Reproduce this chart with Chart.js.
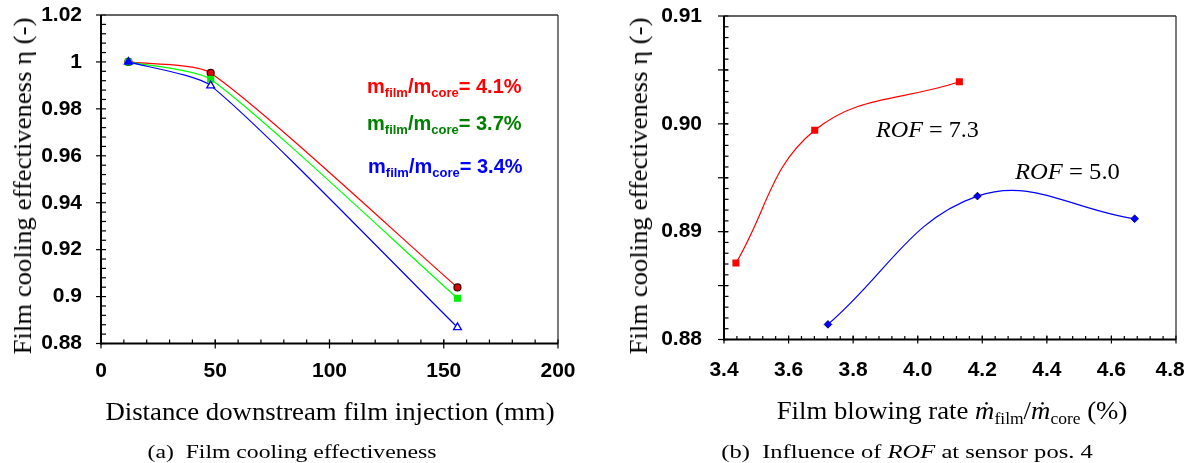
<!DOCTYPE html>
<html lang="en">
<head>
<meta charset="UTF-8">
<title>Film cooling effectiveness</title>
<script src="https://cdn.jsdelivr.net/npm/chart.js@4.4.1/dist/chart.umd.min.js"></script>
<style>
    body { margin: 0; background: #fff; width: 1188px; height: 463px; position: relative; overflow: hidden; }
    .box { position: absolute; top: 0; width: 594px; height: 463px; }
    .t { position: absolute; white-space: nowrap; line-height: 1; }
    .c { transform: translate(-50%, -50%); }
    .l { transform-origin: 0 0; }
    .serif { font-family: "Liberation Serif", "Times New Roman", serif; }
    .sans { font-family: "Liberation Sans", Arial, sans-serif; font-weight: bold; }
    .sub { font-size: 13px; vertical-align: -4px; }
    .sub2 { font-size: 17px; vertical-align: -5px; }
</style>
</head>
<body>
<div class="box" style="left:0"><canvas id="chartA"></canvas></div>
<div class="box" style="left:594px"><canvas id="chartB"></canvas></div>

<!-- axis titles, captions and notes -->
<div class="t c serif" data-w="337" data-rot="1" style="left:23px;top:186px;font-size:26px">Film cooling effectiveness η (-)</div>
<div class="t c serif" data-w="449" style="left:330px;top:412px;font-size:26px">Distance downstream film injection (mm)</div>
<div class="t c serif" data-w="289" style="left:292px;top:451px;font-size:19px">(a)&nbsp; Film cooling effectiveness</div>

<div class="t l sans" data-w="155" style="left:367px;top:76px;font-size:20px;color:#ff0000">m<span class="sub">film</span>/m<span class="sub">core</span>= 4.1%</div>
<div class="t l sans" data-w="155" style="left:367px;top:113px;font-size:20px;color:#008000">m<span class="sub">film</span>/m<span class="sub">core</span>= 3.7%</div>
<div class="t l sans" data-w="155" style="left:368px;top:156px;font-size:20px;color:#0000ff">m<span class="sub">film</span>/m<span class="sub">core</span>= 3.4%</div>

<div class="t c serif" data-w="337" data-rot="1" style="left:639px;top:186px;font-size:26px">Film cooling effectiveness η (-)</div>
<div class="t c serif" data-w="351" style="left:952px;top:412px;font-size:26px">Film blowing rate <i>ṁ</i><span class="sub2">film</span>/<i>ṁ</i><span class="sub2">core</span> (%)</div>
<div class="t c serif" data-w="372" style="left:907px;top:451px;font-size:19px">(b)&nbsp; Influence of <i>ROF</i> at sensor pos. 4</div>

<div class="t l serif" data-w="103" style="left:876px;top:118px;font-size:23px"><i>ROF</i> = 7.3</div>
<div class="t l serif" data-w="105" style="left:1015px;top:160px;font-size:23px"><i>ROF</i> = 5.0</div>

<script>
    'use strict';
    // (a) distance downstream of film injection (mm)
    var distA = [12, 48, 156];
    var eta41 = [1.000, 0.9953, 0.9039];  // mfilm/mcore = 4.1%
    var eta37 = [1.000, 0.9926, 0.8993];  // 3.7%
    var eta34 = [1.000, 0.9899, 0.8869];  // 3.4%

    // (b) blowing rate (%) vs effectiveness
    var rate73 = [3.437, 3.681, 4.129];   // ROF = 7.3
    var eta73 = [0.8871, 0.8994, 0.9039];
    var rate50 = [3.722, 4.185, 4.672];   // ROF = 5.0
    var eta50 = [0.8814, 0.8933, 0.8912];

    Chart.defaults.color = '#000';
    var tickFont = {family: '"Liberation Sans", Arial, sans-serif', size: 21, weight: 'bold'};

    function toXY(xs, ys) {
        return xs.map(function (x, i) { return {x: x, y: ys[i]}; });
    }

    //draw the frame plus major/minor ticks ourselves
    var frame = {
        id: 'frame',
        afterDraw: function (chart, args, o) {
            var c = chart.ctx, a = chart.chartArea, sx = chart.scales.x, sy = chart.scales.y;
            var i, p;
            function line(x1, y1, x2, y2) { c.beginPath(); c.moveTo(x1, y1); c.lineTo(x2, y2); c.stroke(); }
            c.save();
            c.strokeStyle = '#000';
            c.lineWidth = 1.2;
            var nx = Math.round((o.x[1] - o.x[0]) / o.x[3]);
            for (i = 0; i <= nx; i++) {
                p = sx.getPixelForValue(o.x[0] + i * o.x[3]);
                line(p, a.bottom - o.xMinLen, p, a.bottom);
            }
            nx = Math.round((o.x[1] - o.x[0]) / o.x[2]);
            for (i = 0; i <= nx; i++) {
                p = sx.getPixelForValue(o.x[0] + i * o.x[2]);
                line(p, a.bottom - o.xMaj[0], p, a.bottom + o.xMaj[1]);
            }
            var ny = Math.round((o.y[1] - o.y[0]) / o.y[3]);
            for (i = 0; i <= ny; i++) {
                p = sy.getPixelForValue(o.y[0] + i * o.y[3]);
                line(a.left, p, a.left + o.yMinLen, p);
            }
            ny = Math.round((o.y[1] - o.y[0]) / o.y[2]);
            for (i = 0; i <= ny; i++) {
                p = sy.getPixelForValue(o.y[0] + i * o.y[2]);
                line(a.left - o.yMaj[0], p, a.left + o.yMaj[1], p);
            }
            //top and right border
            c.strokeStyle = '#333';
            c.lineWidth = 1.3;
            line(a.left, a.top, a.right, a.top);
            line(a.right, a.top, a.right, a.bottom);
            //axes
            c.strokeStyle = '#000';
            c.lineWidth = 2;
            line(a.left, a.top, a.left, a.bottom + 1);
            line(a.left - 1, a.bottom, a.right, a.bottom);
            c.restore();
        }
    };

    function axes(xMin, xMax, xStep, xFmt, yMin, yMax, yStep, yFmt, yWidth, xHeight, yPad, xPad) {
        return {
            x: {
                type: 'linear', min: xMin, max: xMax,
                grid: {display: false}, border: {display: false},
                ticks: {stepSize: xStep, font: tickFont, padding: xPad, maxRotation: 0, callback: xFmt},
                afterFit: function (s) { s.height = xHeight; s.paddingLeft = 0; s.paddingRight = 0; }
            },
            y: {
                type: 'linear', min: yMin, max: yMax,
                grid: {display: false}, border: {display: false},
                ticks: {stepSize: yStep, font: tickFont, padding: yPad, callback: yFmt},
                afterFit: function (s) { s.width = yWidth; s.paddingTop = 0; s.paddingBottom = 0; }
            }
        };
    }

    var chartA = new Chart(document.getElementById('chartA'), {
        type: 'scatter',
        data: {
            datasets: [{
                label: '3.4%', data: toXY(distA, eta34), order: 0,
                showLine: true, tension: 0.2, borderColor: '#0000ff', borderWidth: 1.2,
                pointStyle: 'triangle', pointRadius: 4.5, pointBorderWidth: 1.3, pointBorderColor: '#0000ff',
                pointBackgroundColor: ['#0000ff', '#fff', '#fff']
            }, {
                label: '3.7%', data: toXY(distA, eta37), order: 1,
                showLine: true, tension: 0.2, borderColor: '#00ff00', borderWidth: 1.2,
                pointStyle: 'rect', pointRadius: 5, pointBorderWidth: 0, pointBackgroundColor: '#00ee00'
            }, {
                label: '4.1%', data: toXY(distA, eta41), order: 2,
                showLine: true, tension: 0.2, borderColor: '#ff0000', borderWidth: 1.2,
                pointStyle: 'circle', pointRadius: 3.5, pointBorderWidth: 1.2,
                pointBorderColor: '#300000', pointBackgroundColor: '#e00000'
            }]
        },
        options: {
            responsive: true, maintainAspectRatio: false, animation: false,
            layout: {padding: {top: 15, right: 36, left: 0, bottom: 0}},
            plugins: {
                legend: {display: false}, tooltip: {enabled: false},
                frame: {x: [0, 200, 50, 10], y: [0.88, 1.02, 0.02, 0.004], xMaj: [4, 5], xMinLen: 4, yMaj: [5, 0], yMinLen: 5}
            },
            scales: axes(0, 200, 50, function (v) { return v; },
                0.88, 1.02, 0.02, function (v) { return String(+v.toFixed(3)); },
                101, 119.5, 11, 7)
        },
        plugins: [frame]
    });

    var chartB = new Chart(document.getElementById('chartB'), {
        type: 'scatter',
        data: {
            datasets: [{
                label: 'ROF = 7.3', data: toXY(rate73, eta73),
                showLine: true, tension: 0.4, borderColor: '#ff0000', borderWidth: 1.2,
                pointStyle: 'rect', pointRadius: 5, pointBorderWidth: 0, pointBackgroundColor: '#ff0000'
            }, {
                label: 'ROF = 5.0', data: toXY(rate50, eta50),
                showLine: true, tension: 0.4, borderColor: '#0000ff', borderWidth: 1.2,
                pointStyle: 'rectRot', pointRadius: 3.8, pointBorderWidth: 1,
                pointBorderColor: '#000080', pointBackgroundColor: '#0000ff'
            }]
        },
        options: {
            responsive: true, maintainAspectRatio: false, animation: false,
            layout: {padding: {top: 16, right: 12, left: 0, bottom: 0}},
            plugins: {
                legend: {display: false}, tooltip: {enabled: false},
                frame: {x: [3.4, 4.8, 0.2, 0.04], y: [0.88, 0.91, 0.005, 0.001], xMaj: [4, 4], xMinLen: 3.5, yMaj: [6, 4], yMinLen: 4.5}
            },
            //the last label sits at the page edge, trailing spaces pull it inside like in the original
            scales: axes(3.4, 4.8, 0.2, function (v) { return v >= 4.79 ? v.toFixed(1) + '  ' : v.toFixed(1); },
                0.88, 0.91, 0.01, function (v) { return v.toFixed(2); },
                130, 123.5, 14, 10)
        },
        plugins: [frame]
    });

    //stretch the html texts to the measured widths of the original
    function fitText() {
        var els = document.querySelectorAll('[data-w]');
        for (var i = 0; i < els.length; i++) {
            var el = els[i];
            var k = +el.getAttribute('data-w') / el.offsetWidth;
            var base = '';
            if (el.classList.contains('c')) base = 'translate(-50%, -50%) ';
            if (el.getAttribute('data-rot')) base += 'rotate(-90deg) ';
            el.style.transform = base + 'scaleX(' + k.toFixed(3) + ')';
        }
    }
    fitText();
    if (document.fonts) document.fonts.ready.then(fitText);
</script>
</body>
</html>
